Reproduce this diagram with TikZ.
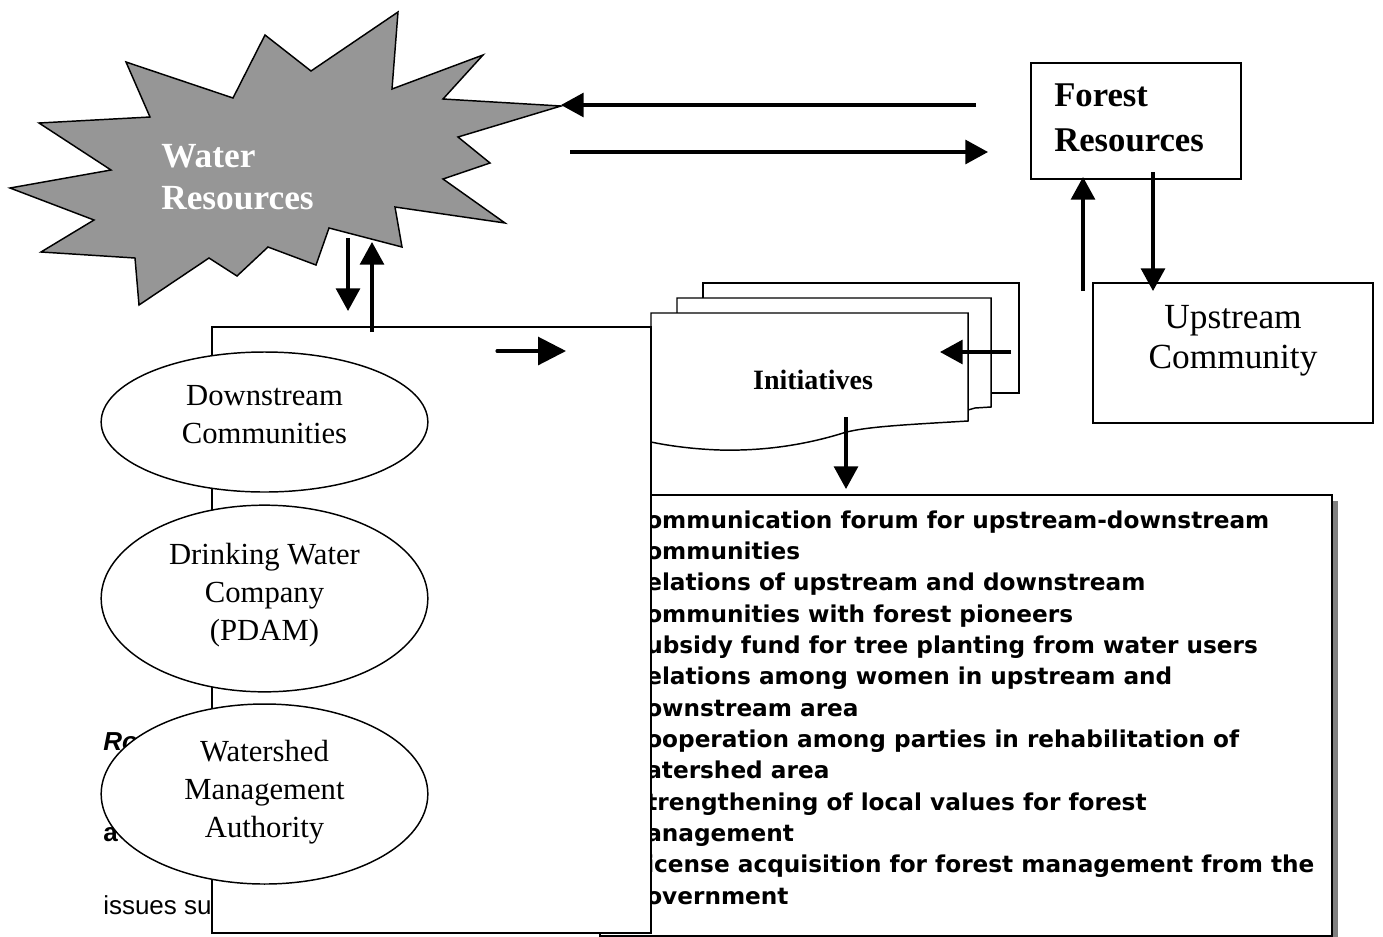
\documentclass[tikz,border=0pt]{standalone}
\usepackage{fontspec}
\setmainfont{Liberation Serif}
\newfontfamily\listfont{DejaVu Sans}
\newfontfamily\arialfont{Liberation Sans}
\usetikzlibrary{arrows.meta,shapes.geometric}
\definecolor{burstgray}{RGB}{150,150,150}
\definecolor{shadowgray}{RGB}{128,128,128}
\begin{document}
\begin{tikzpicture}[x=0.75pt,y=-0.75pt,
  flow/.style={line width=2.3pt,-{Triangle[length=17pt,width=18pt]}},
  boxline/.style={draw=black,line width=1.1pt},
  ellip/.style={ellipse,boxline,fill=white,inner sep=0pt,minimum width=245pt},
  etext/.style={align=center,font=\fontsize{23}{28.5}\selectfont,inner sep=0pt},
  listtext/.style={align=left,inner sep=0pt,font=\listfont\bfseries\fontsize{17.4}{23.5}\selectfont},
  bodytext/.style={anchor=west,inner sep=0pt,font=\arialfont\fontsize{19.5}{23}\selectfont}
]
\useasboundingbox (0,0) rectangle (1383,936);

% body text behind the boxes
\node[bodytext,font=\arialfont\bfseries\itshape\fontsize{19.5}{23}\selectfont] (ro) at (103,742) {Ro};
\node[bodytext,font=\arialfont\bfseries\fontsize{19.5}{23}\selectfont] (aa) at (103,835) {a};
\node[bodytext] (issues) at (103,905) {issues su};

% list box with shadow
\fill[shadowgray] (606,501) rectangle (1338,942);
\draw[boxline,fill=white] (600,495) rectangle (1332,936);
\node[listtext,anchor=base west] (list) at (646,904) {ommunication forum for upstream-downstream\\
ommunities\\
elations of upstream and downstream\\
ommunities with forest pioneers\\
ubsidy fund for tree planting from water users\\
elations among women in upstream and\\
ownstream area\\
ooperation among parties in rehabilitation of\\
atershed area\\
trengthening of local values for forest\\
anagement\\
icense acquisition for forest management from the\\
overnment};

% initiatives stack
\draw[boxline,fill=white] (703,393) -- (703,283) -- (1019,283) -- (1019,393) -- cycle;
\draw[boxline,fill=white] (677,409) -- (677,298) -- (991,298) -- (991,407) -- (975,408) -- (968,410) -- cycle;
\draw[boxline,fill=white] (651,442) -- (651,313) -- (968,313) -- (968,421)
  .. controls (900,425) and (860,427) .. (840,434)
  .. controls (800,446) and (760,451) .. (720,450)
  .. controls (690,449) and (665,445) .. (651,442);
\node[font=\bfseries\fontsize{21}{25}\selectfont,inner sep=0pt] (init) at (813,380) {Initiatives};

% big white box
\draw[boxline,fill=white] (212,327) rectangle (651,933);

% ellipses
\node[ellip,minimum height=105pt] (down) at (264.5,422) {};
\node[etext] (downT) at (264.5,415) {Downstream\\Communities};
\node[ellip,minimum height=140pt] (pdam) at (264.5,598.5) {};
\node[etext] (pdamT) at (264.5,595) {Drinking Water\\Company\\(PDAM)};
\node[ellip,minimum height=135pt] (wma) at (264.5,794) {};
\node[etext] (wmaT) at (264.5,792) {Watershed\\Management\\Authority};

% water resources starburst
\draw[fill=burstgray,draw=black,line width=1.1pt,line join=miter]
  (561,106) -- (458,137) -- (490,163) -- (443,179) -- (505,223) -- (395,207) -- (402,247)
  -- (329,228) -- (316,265) -- (268,247) -- (237,276) -- (209,258) -- (139,305) -- (135,258)
  -- (41,252) -- (94,220) -- (10,188) -- (111,170) -- (39,123) -- (150,117) -- (126,62)
  -- (233,98) -- (265,35) -- (311,71) -- (398,12) -- (392,89) -- (483,55) -- (443,99) -- cycle;
\node[anchor=west,align=left,text=white,inner sep=0pt,font=\bfseries\fontsize{26.5}{32}\selectfont] (water) at (161,177) {Water\\Resources};

% forest and upstream boxes
\node[boxline,fill=white,minimum width=157.5pt,minimum height=87pt,inner sep=0pt] (forest) at (1136,121) {};
\node[anchor=west,align=left,inner sep=0pt,font=\bfseries\fontsize{26}{34}\selectfont] (forestT) at (1054,118) {Forest\\Resources};
\node[boxline,fill=white,minimum width=210pt,minimum height=105pt,inner sep=0pt] (up) at (1233,353) {};
\node[align=center,inner sep=0pt,font=\fontsize{26.5}{30}\selectfont] (upT) at (1233,341) {Upstream\\Community};

% arrow end points
\coordinate (w1s) at (976,105);  \coordinate (w1e) at (561,105);
\coordinate (w2s) at (570,152);  \coordinate (w2e) at (988,152);
\coordinate (d1s) at (348,238);  \coordinate (d1e) at (348,311);
\coordinate (u1s) at (372,332);  \coordinate (u1e) at (372,242);
\coordinate (b1s) at (497,351);  \coordinate (b1e) at (566,351);
\coordinate (i1s) at (1011,352); \coordinate (i1e) at (940,352);
\coordinate (i2s) at (846,417);  \coordinate (i2e) at (846,489);
\coordinate (f1s) at (1083,291); \coordinate (f1e) at (1083,177);
\coordinate (f2s) at (1153,172); \coordinate (f2e) at (1153,291);

\draw[flow] (w1s) -- (w1e);
\draw[flow] (w2s) -- (w2e);
\draw[flow] (d1s) -- (d1e);
\draw[flow] (u1s) -- (u1e);
\draw[flow,line cap=round,-{Triangle[length=21pt,width=21pt]}] (b1s) -- (b1e);
\draw[flow] (i1s) -- (i1e);
\draw[flow] (i2s) -- (i2e);
\draw[flow] (f1s) -- (f1e);
\draw[flow] (f2s) -- (f2e);
\end{tikzpicture}
\end{document}
